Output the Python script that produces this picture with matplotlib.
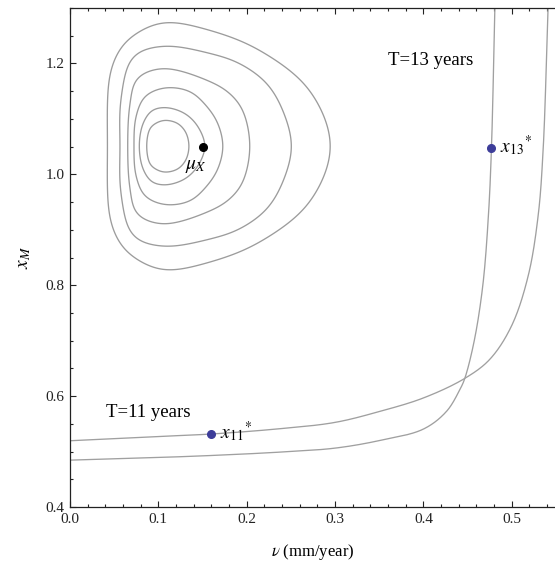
import numpy as np
import matplotlib
matplotlib.use("Agg")
import matplotlib.pyplot as plt
from matplotlib.patches import Polygon
from matplotlib.ticker import MultipleLocator

plt.rcParams['font.family'] = ['Liberation Serif', 'DejaVu Serif']
plt.rcParams['mathtext.fontset'] = 'stix'

# density contours, innermost first (clockwise from the left)
ring1_x = [0.0868, 0.0905, 0.0984, 0.1086, 0.1222, 0.1312, 0.1346, 0.1312, 0.1222, 0.1086, 0.0984, 0.0905]
ring1_y = [1.0507, 1.0823, 1.0932, 1.0974, 1.0914, 1.0751, 1.0507, 1.0263, 1.0100, 1.0040, 1.0082, 1.0191]
ring2_x = [0.0784, 0.0826, 0.0928, 0.1086, 0.1301, 0.1448, 0.1527, 0.1448, 0.1301, 0.1086, 0.0928, 0.0826]
ring2_y = [1.0507, 1.0914, 1.1149, 1.1204, 1.1095, 1.0860, 1.0507, 1.0154, 0.9919, 0.9810, 0.9865, 1.0100]
ring3_x = [0.0724, 0.0747, 0.0848, 0.1075, 0.1357, 0.1550, 0.1674, 0.1731, 0.1674, 0.1550, 0.1357, 0.1075, 0.0848, 0.0747]
ring3_y = [1.0507, 1.1041, 1.1403, 1.1560, 1.1493, 1.1222, 1.0914, 1.0507, 1.0100, 0.9792, 0.9521, 0.9454, 0.9611, 0.9973]
ring4_x = [0.0653, 0.0679, 0.0758, 0.1050, 0.1584, 0.1810, 0.1957, 0.2036, 0.1957, 0.1810, 0.1584, 0.1050, 0.0758, 0.0679]
ring4_y = [1.0507, 1.1276, 1.1729, 1.1910, 1.1674, 1.1457, 1.1149, 1.0507, 0.9865, 0.9557, 0.9340, 0.9104, 0.9285, 0.9738]
ring5_x = [0.0566, 0.0577, 0.0713, 0.1050, 0.1584, 0.1920, 0.2230, 0.2410, 0.2510, 0.2410, 0.2230, 0.1920, 0.1584, 0.1050, 0.0713, 0.0577]
ring5_y = [1.0507, 1.1367, 1.2127, 1.2313, 1.2181, 1.2000, 1.1638, 1.1149, 1.0507, 0.9865, 0.9376, 0.9014, 0.8833, 0.8701, 0.8887, 0.9647]
ring6_x = [0.0424, 0.0452, 0.0566, 0.0713, 0.1050, 0.1584, 0.2149, 0.2715, 0.2952, 0.2715, 0.2149, 0.1584, 0.1050, 0.0713, 0.0566, 0.0452]
ring6_y = [1.0507, 1.1819, 1.2271, 1.2507, 1.2742, 1.2597, 1.2235, 1.1511, 1.0507, 0.9503, 0.8779, 0.8417, 0.8272, 0.8507, 0.8743, 0.9195]
rings = [(ring1_x, ring1_y), (ring2_x, ring2_y), (ring3_x, ring3_y),
         (ring4_x, ring4_y), (ring5_x, ring5_y), (ring6_x, ring6_y)]

# limit state curves
t11_x = [0.0, 0.100, 0.1595, 0.2376, 0.300, 0.3507, 0.400, 0.4468, 0.4751, 0.4996, 0.5185, 0.5298, 0.5355, 0.5410]
t11_y = [0.5195, 0.5272, 0.5316, 0.5412, 0.5526, 0.5725, 0.5967, 0.6320, 0.6664, 0.7263, 0.8167, 0.9254, 1.0462, 1.2995]
t13_x = [0.0, 0.100, 0.160, 0.2376, 0.300, 0.3507, 0.400, 0.4261, 0.4412, 0.4468, 0.4575, 0.4672, 0.4735, 0.4770, 0.4808]
t13_y = [0.4845, 0.4893, 0.4929, 0.4990, 0.5062, 0.5200, 0.5406, 0.5725, 0.6118, 0.6320, 0.7000, 0.8000, 0.9250, 1.0492, 1.2995]

mu_x, mu_y = 0.150, 1.050
x11_pt = (0.1595, 0.5316)
x13_pt = (0.4770, 1.0480)

SX, SY = 0.55, 0.9   # axis spans, so both directions bend alike on screen


def cr_seg(p0, p1, p2, p3, n):
    # centripetal Catmull-Rom piece between p1 and p2
    d = lambda a, b: max(np.hypot(*(b - a)) ** 0.5, 1e-9)
    t0 = 0.0
    t1 = t0 + d(p0, p1)
    t2 = t1 + d(p1, p2)
    t3 = t2 + d(p2, p3)
    t = np.linspace(t1, t2, n, endpoint=False)[:, None]
    a1 = (t1 - t) / (t1 - t0) * p0 + (t - t0) / (t1 - t0) * p1
    a2 = (t2 - t) / (t2 - t1) * p1 + (t - t1) / (t2 - t1) * p2
    a3 = (t3 - t) / (t3 - t2) * p2 + (t - t2) / (t3 - t2) * p3
    b1 = (t2 - t) / (t2 - t0) * a1 + (t - t0) / (t2 - t0) * a2
    b2 = (t3 - t) / (t3 - t1) * a2 + (t - t1) / (t3 - t1) * a3
    return (t2 - t) / (t2 - t1) * b1 + (t - t1) / (t2 - t1) * b2


def ring_path(xs, ys, n_out=600, sigma=0.012):
    P = np.column_stack([np.asarray(xs) / SX, np.asarray(ys) / SY])
    m = len(P)
    dense = np.vstack([cr_seg(P[i - 1], P[i], P[(i + 1) % m], P[(i + 2) % m], 40) for i in range(m)])
    closed = np.vstack([dense, dense[:1]])
    s = np.concatenate([[0], np.cumsum(np.hypot(*np.diff(closed, axis=0).T))])
    ss = np.linspace(0, s[-1], n_out, endpoint=False)
    pts = np.column_stack([np.interp(ss, s, closed[:, 0]), np.interp(ss, s, closed[:, 1])])
    # light periodic smoothing to iron out reading jitter
    w = max(1.0, sigma * n_out)
    k = np.arange(-int(4 * w), int(4 * w) + 1)
    ker = np.exp(-0.5 * (k / w) ** 2)
    ker /= ker.sum()
    sm = np.column_stack([np.convolve(np.concatenate([pts[-len(k):, j], pts[:, j], pts[:len(k), j]]), ker, 'same')[len(k):-len(k)]
                          for j in range(2)])
    return np.column_stack([sm[:, 0] * SX, sm[:, 1] * SY])


def curve_path(xs, ys, n=30):
    P = np.column_stack([np.asarray(xs) / SX, np.asarray(ys) / SY])
    Q = np.vstack([2 * P[0] - P[1], P, 2 * P[-1] - P[-2]])
    segs = [cr_seg(Q[i], Q[i + 1], Q[i + 2], Q[i + 3], n) for i in range(len(P) - 1)]
    out = np.vstack(segs + [P[-1:]])
    return out[:, 0] * SX, out[:, 1] * SY


fig = plt.figure(figsize=(5.55, 5.63), dpi=100)
ax = fig.add_axes([70 / 555, 1 - 507 / 563, 486 / 555, 499 / 563])

for rx, ry in rings:
    ax.add_patch(Polygon(ring_path(rx, ry), closed=True, fill=False, edgecolor='#9c9c9c', lw=0.95))

for cx_, cy_ in [(t11_x, t11_y), (t13_x, t13_y)]:
    cx, cy = curve_path(cx_, cy_)
    ax.plot(cx, cy, color='#a0a0a0', lw=0.95)

ax.plot([mu_x], [mu_y], 'o', color='black', ms=5.5, zorder=5)
ax.plot([x11_pt[0], x13_pt[0]], [x11_pt[1], x13_pt[1]], 'o', color='#3d3d99', ms=5.5, zorder=5)

ax.text(0.130, 1.010, r'$\mu_X$', fontsize=14, ha='left', va='baseline')
ax.text(0.170, 0.524, r'${x_{11}}^{*}$', fontsize=14, ha='left', va='baseline')
ax.text(0.487, 1.040, r'${x_{13}}^{*}$', fontsize=14, ha='left', va='baseline')
ax.text(0.041, 0.571, 'T=11 years', fontsize=13.5, ha='left', va='center')
ax.text(0.360, 1.2045, 'T=13 years', fontsize=13.5, ha='left', va='center')

ax.set_xlim(0, 0.55)
ax.set_ylim(0.4, 1.3)
ax.xaxis.set_major_locator(MultipleLocator(0.1))
ax.xaxis.set_minor_locator(MultipleLocator(0.02))
ax.yaxis.set_major_locator(MultipleLocator(0.2))
ax.yaxis.set_minor_locator(MultipleLocator(0.05))
ax.xaxis.set_major_formatter(plt.FuncFormatter(lambda v, p: f'{v:.1f}'))
ax.yaxis.set_major_formatter(plt.FuncFormatter(lambda v, p: f'{v:.1f}'))
ax.tick_params(which='both', direction='in', top=True, right=False, labelsize=11, colors='#222222', width=0.8)
ax.tick_params(which='major', length=4, pad=4)
ax.tick_params(which='minor', length=2)
for s in ax.spines.values():
    s.set_linewidth(0.9)
    s.set_color('#222222')
ax.spines['right'].set_visible(False)

ax.set_xlabel(r'$\nu$ (mm/year)', fontsize=12, labelpad=12)
ax.set_ylabel(r'$x_M$', fontsize=14, labelpad=9)

fig.savefig('out.png', dpi=100)
